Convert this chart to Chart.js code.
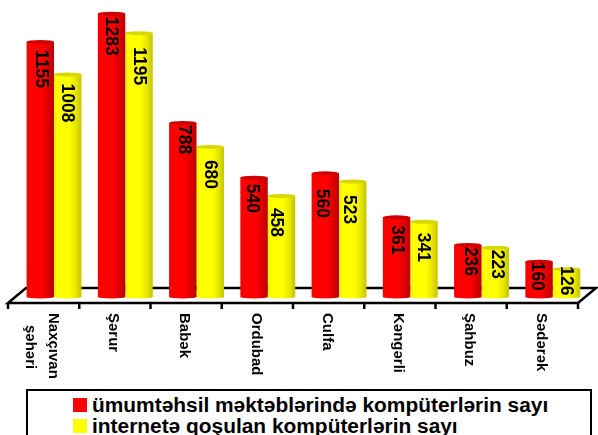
<!DOCTYPE html>
<html lang="en">
<head>
  <meta charset="UTF-8">
  <title>Kompüterlərin sayı</title>
  <script src="https://cdn.jsdelivr.net/npm/chart.js"></script>
  <style>
    html, body { margin: 0; padding: 0; background: #fff; overflow: hidden; }
    #wrap { position: relative; width: 598px; height: 435px; }
    #legend {
      position: absolute; left: 26px; top: 389px; width: 566px; height: 60px;
      border: 2.5px solid #000; box-sizing: border-box; background: #fff;
      font: bold 20.9px "Liberation Sans", Arial, sans-serif; color: #000;
    }
    #legend div { position: absolute; left: 47px; white-space: nowrap; line-height: 21px; }
    #legend i { position: absolute; left: -2px; top: 4px; width: 14px; height: 14px; }
    #legend span { margin-left: 17px; }
  </style>
</head>
<body>
<div id="wrap">
  <canvas id="chart" width="598" height="435"></canvas>
  <div id="legend"></div>
</div>

<script>
const categories = [['Naxçıvan', 'şəhəri'], 'Şərur', 'Babək', 'Ordubad', 'Culfa', 'Kəngərli', 'Şahbuz', 'Sədərək'];
const seriesNames = ['ümumtəhsil məktəblərində kompüterlərin sayı', 'internetə qoşulan kompüterlərin sayı'];
const schoolPcs = [1155, 1283, 788, 540, 560, 361, 236, 160];
const onlinePcs = [1008, 1195, 680, 458, 523, 341, 223, 126];

// the numbers were hand placed in the original: px below bar top, px off bar centre
const schoolDrops = [8, 3, 2, 6, 15.5, 8, 2, 0];
const onlineDrops = [9, 14, 13, 12, 13.5, 11, 2, -3];
const schoolNudge = [1, 0, 1, -2, -3, 1, 2, -2];
const onlineNudge = [-1, 0, 0, -5, -4, -1, 2, 0];

const BAR_FRAC = 0.385;
const DEPTH_X = 18, DEPTH_Y = 15;   // floor slant
const SHIFT_X = 10.4;               // bars stand in the middle of the floor depth

function barGradient(ctx, stops, sign) {
  const chart = ctx.chart;
  const sx = chart.scales.x;
  if (!sx || !chart.chartArea) return stops[0];
  const c = sx.getPixelForValue(ctx.dataIndex);
  const w = sx.width / categories.length * BAR_FRAC;
  const x0 = sign < 0 ? c - w : c;
  const g = chart.ctx.createLinearGradient(x0, 0, x0 + w, 0);
  g.addColorStop(0, stops[0]);
  g.addColorStop(0.12, stops[1]);
  g.addColorStop(0.55, stops[1]);
  g.addColorStop(0.8, stops[2]);
  g.addColorStop(1, stops[3]);
  return g;
}

const redStops = ['#f40000', '#ff0000', '#dc0000', '#bc0000'];
const yellowStops = ['#f8f800', '#ffff00', '#e6e600', '#c4c400'];
const capColors = ['#cf0000', '#d6d600'];

// floor, ticks and category names, all hung on the x scale
const floorPlugin = {
  id: 'floor',
  beforeDatasetsDraw(chart) {
    const { ctx, scales: { x } } = chart;
    const step = x.width / categories.length;
    const left = x.left - SHIFT_X, right = x.right - SHIFT_X;
    const front = chart.chartArea.bottom + 6, back = front - DEPTH_Y;
    ctx.save();
    ctx.strokeStyle = '#000';
    ctx.lineWidth = 2.5;
    ctx.beginPath();
    ctx.moveTo(left + DEPTH_X, back);
    ctx.lineTo(right + DEPTH_X, back);
    ctx.lineTo(right, front);
    ctx.lineTo(left, front);
    ctx.closePath();
    ctx.stroke();
    for (let i = 0; i <= categories.length; i++) {
      const tx = left + i * step;
      ctx.beginPath();
      ctx.moveTo(tx, front);
      ctx.lineTo(tx, front + 6);
      ctx.stroke();
    }
    ctx.fillStyle = '#000';
    ctx.font = 'bold 15px "Liberation Sans", Arial, sans-serif';
    ctx.textBaseline = 'middle';
    categories.forEach((cat, i) => {
      const lines = [].concat(cat);
      const cx = x.getPixelForValue(i) - SHIFT_X - 1.5;
      lines.forEach((line, n) => {
        ctx.save();
        ctx.translate(cx + (lines.length > 1 ? 11 - n * 23 : 0), front + (n ? 22 : 10));
        ctx.rotate(Math.PI / 2);
        ctx.textAlign = 'left';
        ctx.fillText(line, 0, 0);
        ctx.restore();
      });
    });
    ctx.restore();
  },
  afterDatasetDraw(chart, args) {
    const { ctx } = chart;
    const base = chart.chartArea.bottom;
    ctx.save();
    args.meta.data.forEach(bar => {
      const rx = bar.width / 2;
      ctx.fillStyle = capColors[args.index];
      ctx.beginPath();
      ctx.ellipse(bar.x, bar.y, rx, 2, 0, 0, Math.PI * 2);
      ctx.fill();
      ctx.fillStyle = bar.options.backgroundColor;
      ctx.beginPath();
      ctx.ellipse(bar.x, base, rx, 1.5, 0, 0, Math.PI);
      ctx.fill();
    });
    ctx.restore();
  },
  afterDatasetsDraw(chart) {
    const { ctx } = chart;
    ctx.save();
    ctx.fillStyle = '#000';
    ctx.font = 'bold 19px "Liberation Sans", Arial, sans-serif';
    ctx.textAlign = 'left';
    ctx.textBaseline = 'middle';
    [schoolDrops, onlineDrops].forEach((drops, d) => {
      const nudge = d ? onlineNudge : schoolNudge;
      chart.getDatasetMeta(d).data.forEach((bar, i) => {
        ctx.save();
        ctx.translate(bar.x + nudge[i], bar.y + drops[i]);
        ctx.rotate(Math.PI / 2);
        ctx.scale(0.92, 1);
        ctx.fillText(chart.data.datasets[d].data[i], 0, 0);
        ctx.restore();
      });
    });
    ctx.restore();
  }
};

new Chart(document.getElementById('chart'), {
  type: 'bar',
  data: {
    labels: categories,
    datasets: [
      { label: seriesNames[0], data: schoolPcs, backgroundColor: c => barGradient(c, redStops, -1) },
      { label: seriesNames[1], data: onlinePcs, backgroundColor: c => barGradient(c, yellowStops, 1) }
    ]
  },
  options: {
    responsive: false,
    animation: false,
    events: [],
    barPercentage: 1,
    categoryPercentage: BAR_FRAC * 2,
    layout: { padding: { left: 18.4, right: 9.6, top: 10, bottom: 138 } },
    plugins: { legend: { display: false }, tooltip: { enabled: false } },
    scales: {
      x: { display: false },
      y: { display: false, min: 0, max: 1300 }
    }
  },
  plugins: [floorPlugin]
});

// legend as plain text below the chart
const legendColors = ['#ff0000', '#ffff00'];
const legendBox = document.getElementById('legend');
seriesNames.forEach((name, i) => {
  const row = document.createElement('div');
  row.style.top = (i ? 24 : 3) + 'px';
  row.innerHTML = '<i style="background:' + legendColors[i] + '"></i><span>' + name + '</span>';
  legendBox.appendChild(row);
});
</script>
</body>
</html>
